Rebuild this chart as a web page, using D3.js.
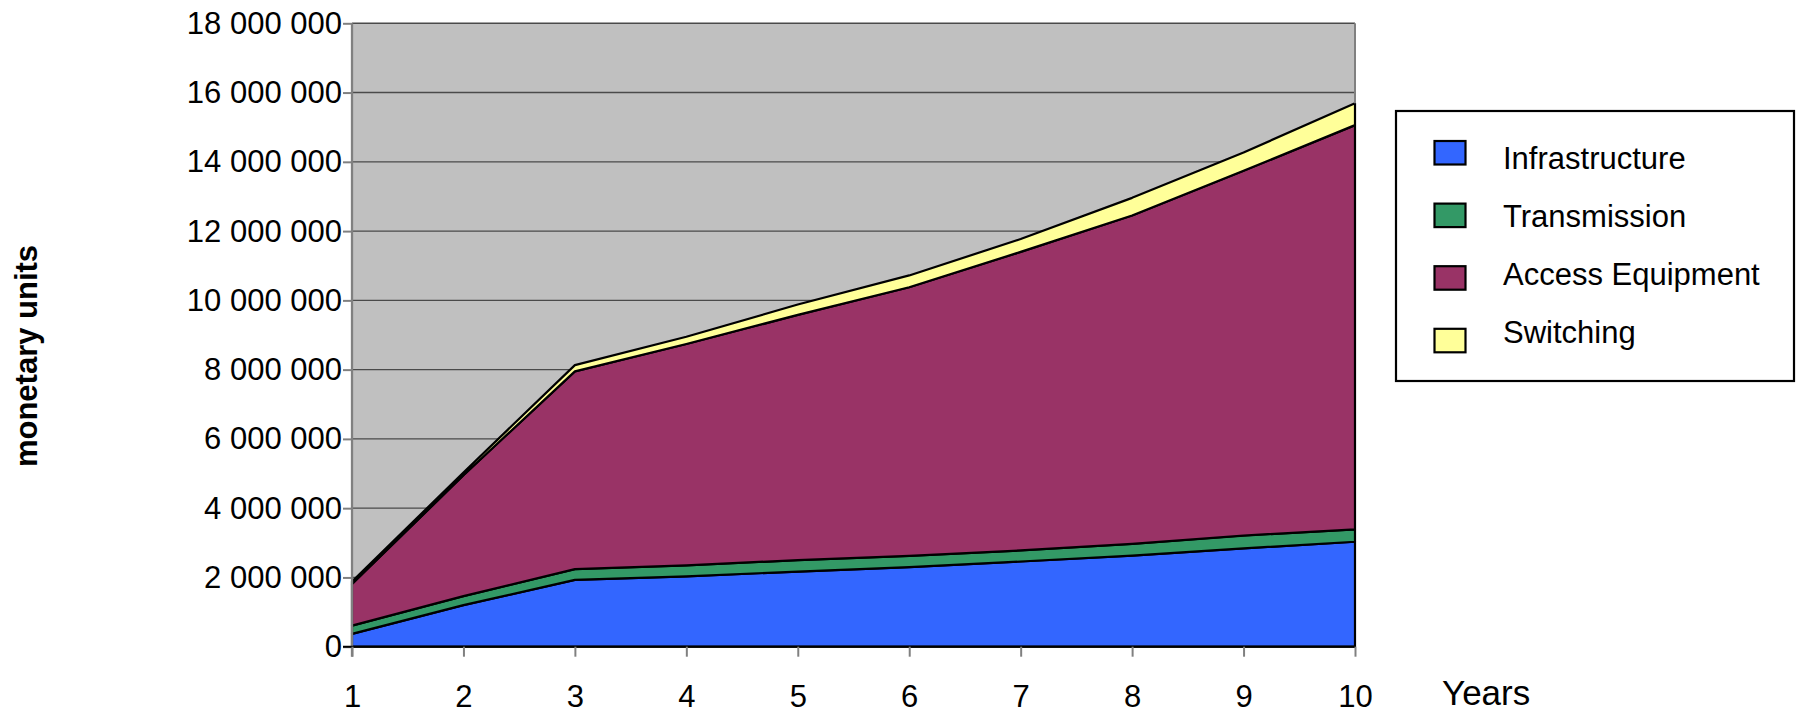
<!DOCTYPE html>
<html>
<head>
<meta charset="utf-8">
<script src="https://cdn.jsdelivr.net/npm/d3@7"></script>
<style>
  html, body { margin: 0; padding: 0; background: #ffffff; }
  svg { display: block; font-family: Arial, "Liberation Sans", sans-serif; }
</style>
</head>
<body>
<svg id="chart" width="1797" height="713"></svg>
<script>
// ---- data ----
const years = [1, 2, 3, 4, 5, 6, 7, 8, 9, 10];
const seriesNames = ["Infrastructure", "Transmission", "Access Equipment", "Switching"];
const infrastructure = [370000, 1200000, 1930000, 2030000, 2170000, 2300000, 2460000, 2630000, 2840000, 3030000];
const transmission   = [240000, 260000, 310000, 320000, 330000, 320000, 320000, 340000, 370000, 360000];
const accessEquip    = [1200000, 3490000, 5710000, 6390000, 7080000, 7760000, 8620000, 9480000, 10530000, 11670000];
const switching      = [70000, 80000, 180000, 210000, 300000, 340000, 370000, 510000, 530000, 630000];
const yTicks = [0, 2000000, 4000000, 6000000, 8000000, 10000000, 12000000, 14000000, 16000000, 18000000];
const colors = ["#3366FF", "#339966", "#993366", "#FFFF99"];

// ---- layout ----
const svg = d3.select("#chart");
const pLeft = 352, pRight = 1355, pTop = 23.3, pBottom = 646.7;

const x = d3.scaleLinear().domain([1, 10]).range([pLeft, pRight]);
const y = d3.scaleLinear().domain([0, 18000000]).range([pBottom, pTop]);

const table = years.map((yr, i) => ({
  year: yr,
  "Infrastructure": infrastructure[i],
  "Transmission": transmission[i],
  "Access Equipment": accessEquip[i],
  "Switching": switching[i]
}));
const stacked = d3.stack().keys(seriesNames)(table);

// plot background
svg.append("rect")
  .attr("x", pLeft).attr("y", pTop)
  .attr("width", pRight - pLeft).attr("height", pBottom - pTop)
  .attr("fill", "#C0C0C0");

// gridlines
svg.append("g").selectAll("line")
  .data(yTicks.filter(d => d > 0))
  .join("line")
  .attr("x1", pLeft).attr("x2", pRight)
  .attr("y1", d => y(d)).attr("y2", d => y(d))
  .attr("stroke", "#4a4a4a").attr("stroke-width", 1.4);

// areas
const area = d3.area()
  .x(d => x(d.data.year))
  .y0(d => y(d[0]))
  .y1(d => y(d[1]));

svg.append("g").selectAll("path")
  .data(stacked)
  .join("path")
  .attr("d", d => area(d))
  .attr("fill", (d, i) => colors[i])
  .attr("stroke", "#000")
  .attr("stroke-width", 2.2)
  .attr("stroke-linejoin", "round");

// plot border (left axis, right edge)
svg.append("line").attr("x1", pLeft).attr("x2", pLeft).attr("y1", pTop).attr("y2", pBottom + 10)
  .attr("stroke", "#808080").attr("stroke-width", 2.3);
svg.append("line").attr("x1", pRight).attr("x2", pRight).attr("y1", pTop).attr("y2", y(stacked[3][9][1]))
  .attr("stroke", "#808080").attr("stroke-width", 2);

// y axis
const yAxis = d3.axisLeft(y).tickValues(yTicks)
  .tickSize(9).tickPadding(1)
  .tickFormat(d => d3.format(",")(d).replace(/,/g, " "));
const gy = svg.append("g").attr("transform", `translate(${pLeft},0)`).call(yAxis);
gy.select(".domain").remove();
gy.selectAll(".tick line").attr("stroke", "#808080").attr("stroke-width", 2);
gy.selectAll(".tick text").attr("font-size", 31).attr("fill", "#000")
  .attr("font-family", "Arial, 'Liberation Sans', sans-serif");

// x axis
const xAxis = d3.axisBottom(x).tickValues(years).tickSize(10).tickPadding(28)
  .tickFormat(d3.format("d"));
const gx = svg.append("g").attr("transform", `translate(0,${pBottom})`).call(xAxis);
gx.select(".domain").attr("stroke", "#000").attr("stroke-width", 2)
  .attr("d", `M${pLeft - 9},0H${pRight}`);
gx.selectAll(".tick line").attr("stroke", "#808080").attr("stroke-width", 2);
gx.selectAll(".tick text").attr("font-size", 31).attr("fill", "#000")
  .attr("font-family", "Arial, 'Liberation Sans', sans-serif");

// axis titles
svg.append("text")
  .attr("transform", "translate(37,356) rotate(-90)")
  .attr("text-anchor", "middle")
  .attr("font-size", 31).attr("font-weight", "bold").attr("fill", "#000")
  .text("monetary units");

svg.append("text")
  .attr("x", 1442).attr("y", 705)
  .attr("font-size", 35).attr("fill", "#000")
  .text("Years");

// legend
const lg = svg.append("g");
lg.append("rect").attr("x", 1396).attr("y", 111).attr("width", 398).attr("height", 270)
  .attr("fill", "#fff").attr("stroke", "#000").attr("stroke-width", 2.2);
seriesNames.forEach((name, i) => {
  lg.append("rect")
    .attr("x", 1434.5).attr("y", 141 + i * 62.6)
    .attr("width", 31).attr("height", 23.5)
    .attr("fill", colors[i]).attr("stroke", "#000").attr("stroke-width", 2.2);
  lg.append("text")
    .attr("x", 1503).attr("y", 168.5 + i * 58.3)
    .attr("font-size", 31).attr("fill", "#000")
    .text(name);
});
</script>
</body>
</html>
